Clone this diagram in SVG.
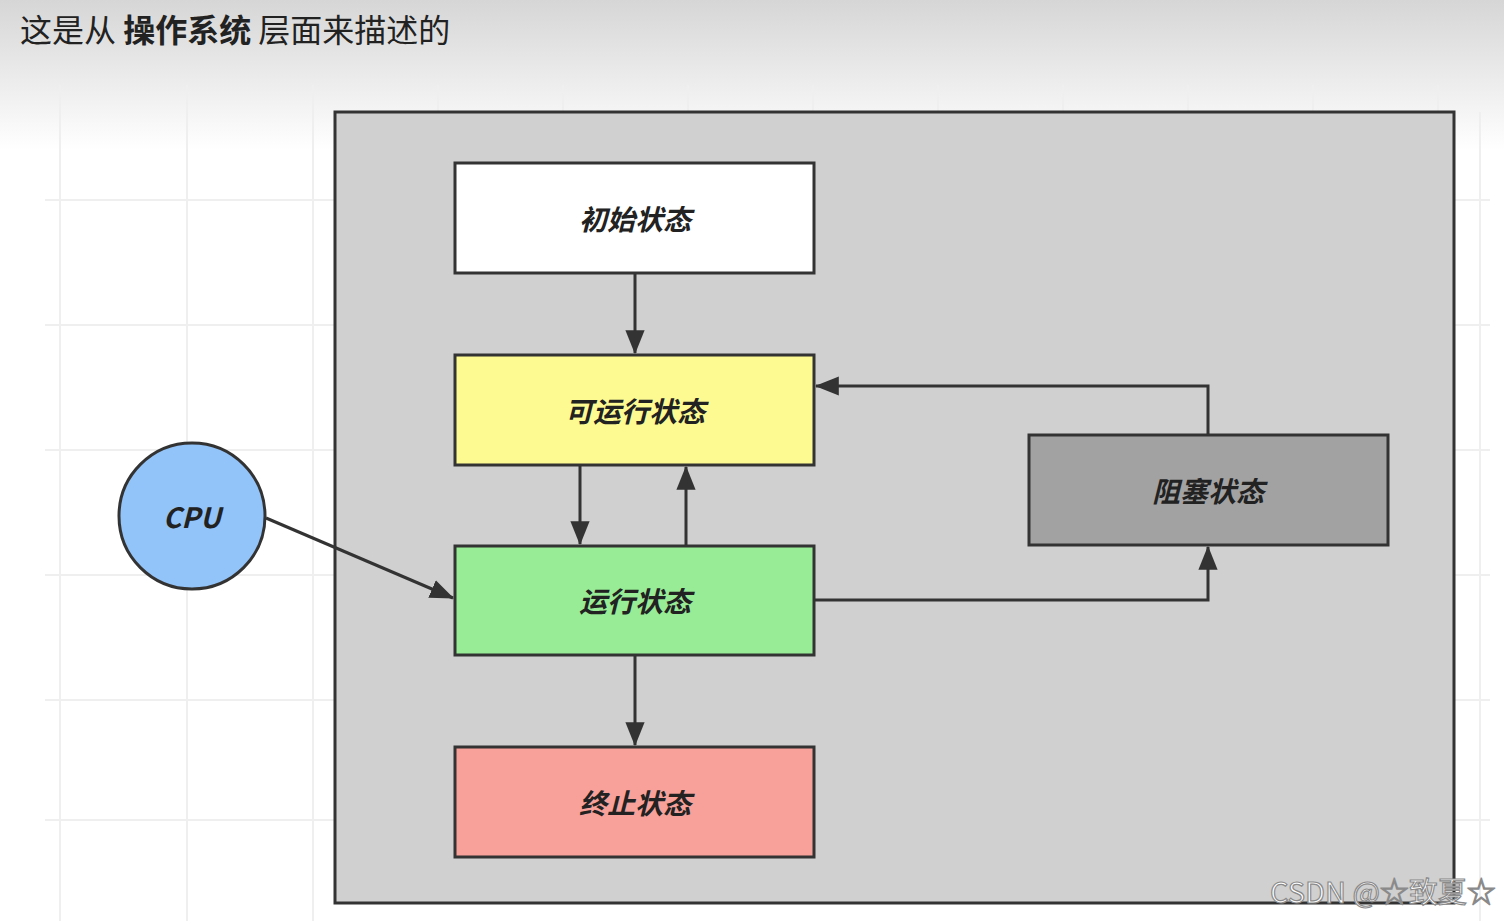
<svg xmlns="http://www.w3.org/2000/svg" width="1504" height="921" viewBox="0 0 1504 921">
<defs>
<linearGradient id="topfade" x1="0" y1="0" x2="0" y2="1">
<stop offset="0" stop-color="#d6d6d6"/>
<stop offset="1" stop-color="#ffffff"/>
</linearGradient>
<marker id="arr" viewBox="0 0 20 20" refX="19" refY="10" markerWidth="24" markerHeight="24" orient="auto" markerUnits="userSpaceOnUse">
<path d="M0,2 L20,10 L0,18 Z" fill="#333"/>
</marker>
</defs>
<style>
.grid{stroke:#efefef;stroke-width:2;fill:none}
.box{stroke:#333;stroke-width:3}
.lbl{font-family:"Noto Sans CJK SC","Liberation Sans",sans-serif;font-size:28px;font-weight:bold;font-style:italic;fill:#222;text-anchor:middle;dominant-baseline:central}
.conn{stroke:#333;stroke-width:3;fill:none;marker-end:url(#arr)}
</style>
<rect width="1504" height="921" fill="#ffffff"/>
<rect width="1504" height="150" fill="url(#topfade)"/>
<g id="grid">
<path class="grid" d="M60,85V921 M187,85V921 M313,85V921 M438,85V112 M563,85V112 M688,85V112 M813,85V112 M938,85V112 M1063,85V112 M1188,85V112 M1313,85V112 M1438,85V112 M1480,112V921"/>
<path class="grid" d="M45,200H335 M45,325H335 M45,450H335 M45,575H335 M45,700H335 M45,820H335 M1454,200H1490 M1454,325H1490 M1454,450H1490 M1454,575H1490 M1454,700H1490 M1454,820H1490"/>
</g>
<text x="20" y="42" font-family="Noto Sans CJK SC, Liberation Sans, sans-serif" font-size="32" fill="#222">这是从 <tspan font-weight="bold">操作系统</tspan> 层面来描述的</text>
<g id="container">
<rect x="335" y="112" width="1119" height="791" fill="#d0d0d0" class="box"/>
</g>
<g id="connectors">
<line class="conn" x1="635" y1="273" x2="635" y2="353"/>
<line class="conn" x1="580" y1="465" x2="580" y2="544"/>
<line class="conn" x1="686" y1="546" x2="686" y2="467"/>
<line class="conn" x1="635" y1="655" x2="635" y2="745"/>
<polyline class="conn" points="814,600 1208,600 1208,547"/>
<polyline class="conn" points="1208,435 1208,386 816,386"/>
<line class="conn" x1="266" y1="518" x2="453" y2="598"/>
</g>
<g id="initial">
<rect x="455" y="163" width="359" height="110" fill="#ffffff" class="box"/>
<text class="lbl" x="635" y="218">初始状态</text>
</g>
<g id="runnable">
<rect x="455" y="355" width="359" height="110" fill="#fdfa92" class="box"/>
<text class="lbl" x="635" y="410">可运行状态</text>
</g>
<g id="running">
<rect x="455" y="546" width="359" height="109" fill="#97ec95" class="box"/>
<text class="lbl" x="635" y="600">运行状态</text>
</g>
<g id="terminated">
<rect x="455" y="747" width="359" height="110" fill="#f8a19a" class="box"/>
<text class="lbl" x="635" y="802">终止状态</text>
</g>
<g id="blocked">
<rect x="1029" y="435" width="359" height="110" fill="#a2a2a2" class="box"/>
<text class="lbl" x="1208" y="490">阻塞状态</text>
</g>
<g id="cpu">
<circle cx="192" cy="516" r="73" fill="#92c4fa" class="box"/>
<text class="lbl" x="192" y="516">CPU</text>
</g>
<text x="1270" y="903" font-family="Noto Sans CJK SC, Liberation Sans, sans-serif" font-size="29" fill="#ffffff" stroke="#8a8a8a" stroke-width="1.2">CSDN @☆致夏☆</text>
</svg>
